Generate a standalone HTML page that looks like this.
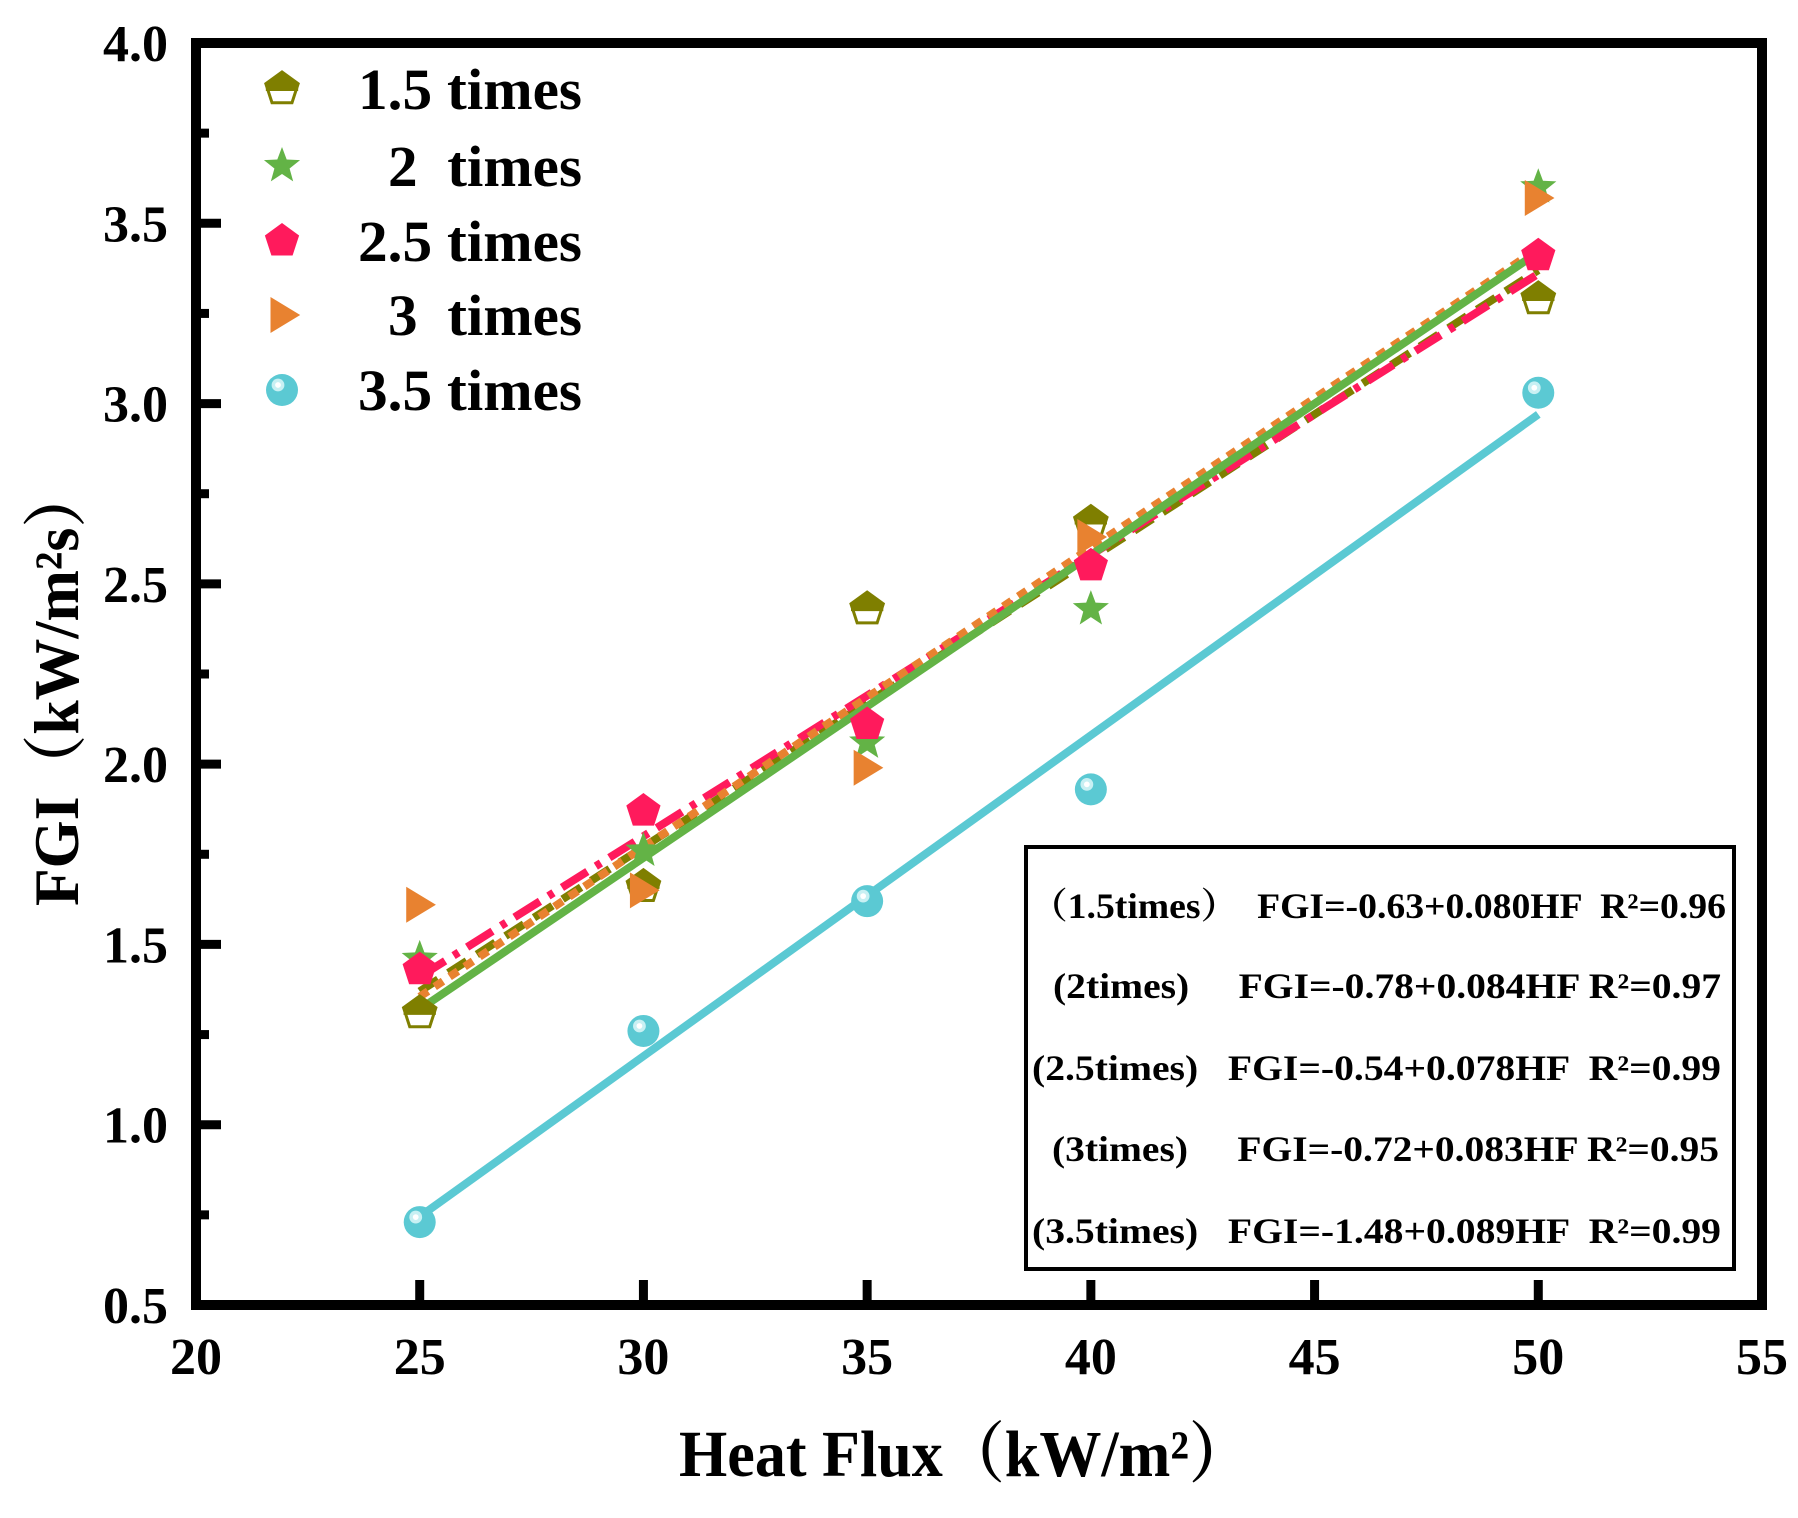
<!DOCTYPE html>
<html><head><meta charset="utf-8"><style>
html,body{margin:0;padding:0;background:#fff;}
svg{display:block;}
text{font-family:"Liberation Serif","Noto Serif CJK SC",serif;font-weight:bold;fill:#000;}
</style></head><body>
<svg id="s" width="1798" height="1518" viewBox="0 0 1798 1518" xmlns="http://www.w3.org/2000/svg"></svg>
<script>
const s=document.getElementById('s');
const X=v=>196+(v-20)*1566/35, Y=v=>1305-(v-0.5)*1262/3.5;
let h='';
for(let v=25;v<=50;v+=5){h+=`<line x1="${X(v)}" x2="${X(v)}" y1="1300" y2="1280" stroke="#000" stroke-width="9"/>`;}
for(let v=0.75;v<4;v+=0.25){const maj=Math.abs(v*2-Math.round(v*2))<1e-6;h+=`<line x1="200" x2="${maj?221:209}" y1="${Y(v)}" y2="${Y(v)}" stroke="#000" stroke-width="9"/>`;}
for(let v=20;v<=55;v+=5)h+=`<text x="${X(v)}" y="1374" font-size="52" text-anchor="middle">${v}</text>`;
for(let v=0.5;v<=4.001;v+=0.5)h+=`<text x="168" y="${Y(v)+18}" font-size="52" text-anchor="end">${v.toFixed(1)}</text>`;
const fits=[[-0.63,0.080,'#7f7f00','22 12'],[-0.78,0.084,'#63b346',''],[-0.54,0.078,'#ff1a5c','30 10 6 10'],[-0.72,0.083,'#e88230','10 8'],[-1.48,0.089,'#5bc9d3','']];
const order=[4,0,2,3,1];
for(const i of order){const f=fits[i];h+=`<line x1="${X(25)}" y1="${Y(f[0]+f[1]*25)}" x2="${X(50)}" y2="${Y(f[0]+f[1]*50)}" stroke="${f[2]}" stroke-width="8" ${f[3]?`stroke-dasharray="${f[3]}"`:''}/>`;}
function pent(cx,cy,r,fill,hollow){let p=[];for(let k=0;k<5;k++){const a=-Math.PI/2+k*2*Math.PI/5;p.push([cx+r*Math.cos(a),cy+r*Math.sin(a)]);}
 const ps=p.map(q=>q.join(',')).join(' ');
 if(!hollow)return `<polygon points="${ps}" fill="${fill}"/>`;
 return `<polygon points="${ps}" fill="#fff" stroke="${fill}" stroke-width="3"/><polygon points="${p[0]} ${p[1]} ${cx+r*0.95},${cy+2} ${cx-r*0.95},${cy+2} ${p[4]}" fill="${fill}"/>`;}
function star(cx,cy,r,fill){let p=[];for(let k=0;k<10;k++){const a=-Math.PI/2+k*Math.PI/5,rr=k%2?r*0.42:r;p.push((cx+rr*Math.cos(a))+','+(cy+rr*Math.sin(a)));}return `<polygon points="${p.join(' ')}" fill="${fill}"/>`;}
function tri(cx,cy,r,fill){return `<polygon points="${cx-r*0.75},${cy-r} ${cx+r*0.9},${cy} ${cx-r*0.75},${cy+r}" fill="${fill}"/>`;}
function circ(cx,cy,r){return `<circle cx="${cx}" cy="${cy}" r="${r}" fill="#5bc9d3"/><circle cx="${cx-4}" cy="${cy-5}" r="${r*0.4}" fill="#c8f0f3"/><circle cx="${cx-4}" cy="${cy-5}" r="${r*0.18}" fill="#fff"/>`;}
const xs=[25,30,35,40,50];
const d1=[1.31,1.66,2.43,2.67,3.29],d2=[1.46,1.76,2.06,2.43,3.60],d25=[1.43,1.87,2.11,2.55,3.41],d3=[1.61,1.65,1.99,2.63,3.57],d35=[0.73,1.26,1.62,1.93,3.03];
xs.forEach((x,i)=>{h+=pent(X(x),Y(d1[i]),17,'#7f7f00',true);});
xs.forEach((x,i)=>{h+=star(X(x),Y(d2[i]),19,'#63b346');});
xs.forEach((x,i)=>{h+=pent(X(x),Y(d25[i]),18,'#ff1a5c',false);});
xs.forEach((x,i)=>{h+=tri(X(x),Y(d3[i]),18,'#e88230');});
xs.forEach((x,i)=>{h+=circ(X(x),Y(d35[i]),16);});
const ly=[89,166,241,315,390];
h+=pent(282,ly[0],17,'#7f7f00',true)+star(282,ly[1],19,'#63b346')+pent(282,ly[2],18,'#ff1a5c',false)+tri(284,ly[3],18,'#e88230')+circ(282,ly[4],16);
const lt=[['1.5 times',358],['2  times',388],['2.5 times',358],['3  times',388],['3.5 times',358]];
lt.forEach((t,i)=>h+=`<text x="${t[1]}" y="${ly[i]+20}" font-size="58" textLength="${582-t[1]}" lengthAdjust="spacingAndGlyphs" xml:space="preserve">${t[0]}</text>`);
h+=`<rect x="1026" y="847" width="708" height="422" fill="#fff" stroke="#000" stroke-width="4"/>`;
const eq=[['（1.5times）  FGI=-0.63+0.080HF  R²=0.96',1030,1726,906],['(2times)     FGI=-0.78+0.084HF R²=0.97',1053,1721,986],['(2.5times)   FGI=-0.54+0.078HF  R²=0.99',1032,1721,1068],['(3times)     FGI=-0.72+0.083HF R²=0.95',1052,1719,1149],['(3.5times)   FGI=-1.48+0.089HF  R²=0.99',1032,1721,1231]];
eq.forEach(e=>h+=`<text x="${e[1]}" y="${e[3]+12}" font-size="36" textLength="${e[2]-e[1]}" lengthAdjust="spacingAndGlyphs" xml:space="preserve">${e[0]}</text>`);
h+=`<rect x="196" y="43" width="1566" height="1262" fill="none" stroke="#000" stroke-width="10"/>`;
h+=`<text x="679" y="1476" font-size="66" textLength="572" lengthAdjust="spacingAndGlyphs">Heat Flux（kW/m²）</text>`;
h+=`<text transform="translate(78,906) rotate(-90)" font-size="64" textLength="440" lengthAdjust="spacingAndGlyphs">FGI（kW/m²s）</text>`;
s.innerHTML=h;
</script>
</body></html>
